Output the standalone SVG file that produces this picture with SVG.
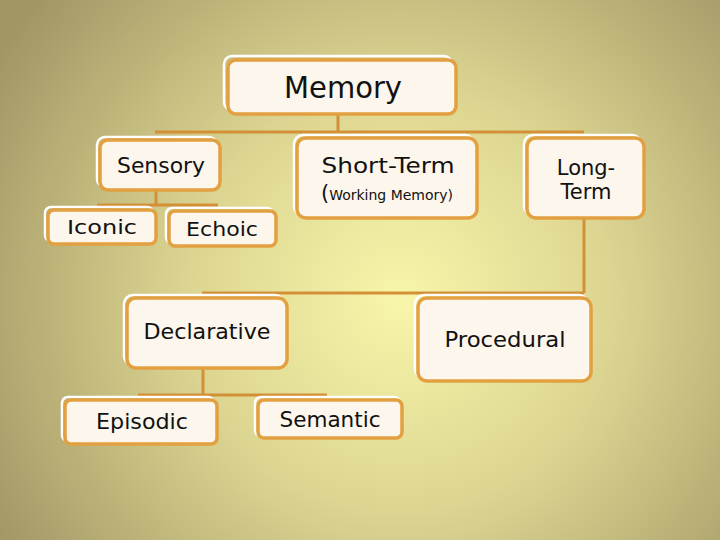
<svg xmlns="http://www.w3.org/2000/svg" width="720" height="540" viewBox="0 0 720 540">
<defs>
<radialGradient id="bg" cx="400" cy="300" r="470" gradientUnits="userSpaceOnUse">
<stop offset="0" stop-color="#f8f6aa"/>
<stop offset="0.45" stop-color="#dcd591"/>
<stop offset="1" stop-color="#a29665"/>
</radialGradient>
<style>
.halo{fill:none;stroke:#ffffff;stroke-width:2.5}
.box{fill:#fcf6ec;stroke:#e2a040;stroke-width:3.5}
.t{font-family:"DejaVu Sans","Liberation Sans",sans-serif;fill:#111;text-anchor:middle}
.c{stroke:#d49036;stroke-width:3;fill:none}
</style>
</defs>
<rect width="720" height="540" fill="url(#bg)"/>
<g id="connectors">
<path class="c" d="M338 114 V132 M155 132 H584 M584 218 V293 M202 293 H584 M156 190 V205 M97 205 H218 M203 367 V395 M138 395 H327"/>
</g>
<g id="memory">
<rect class="halo" x="224" y="56" width="228" height="54" rx="8"/>
<rect class="box" x="228" y="60" width="228" height="54" rx="8"/>
<text class="t" x="343" y="98" font-size="30" textLength="118" lengthAdjust="spacingAndGlyphs">Memory</text>
</g>
<g id="sensory">
<rect class="halo" x="97" y="137" width="120" height="50" rx="8"/>
<rect class="box" x="100" y="140" width="120" height="50" rx="8"/>
<text class="t" x="161" y="173" font-size="21" textLength="88" lengthAdjust="spacingAndGlyphs">Sensory</text>
</g>
<g id="short-term">
<rect class="halo" x="294" y="135" width="180" height="80" rx="9"/>
<rect class="box" x="297" y="138" width="180" height="80" rx="9"/>
<text class="t" x="388" y="173" font-size="21" textLength="133" lengthAdjust="spacingAndGlyphs">Short-Term</text>
<text class="t" x="387" y="200" font-size="14"><tspan font-size="21">(</tspan>Working Memory)</text>
</g>
<g id="long-term">
<rect class="halo" x="524" y="135" width="117" height="80" rx="9"/>
<rect class="box" x="527" y="138" width="117" height="80" rx="9"/>
<text class="t" x="586" y="175" font-size="21">Long-</text>
<text class="t" x="586" y="199" font-size="21">Term</text>
</g>
<g id="iconic">
<rect class="halo" x="45" y="207" width="108" height="34" rx="6"/>
<rect class="box" x="48" y="210" width="108" height="34" rx="6"/>
<text class="t" x="102" y="234" font-size="20" textLength="70" lengthAdjust="spacingAndGlyphs">Iconic</text>
</g>
<g id="echoic">
<rect class="halo" x="166" y="208" width="107" height="35" rx="6"/>
<rect class="box" x="169" y="211" width="107" height="35" rx="6"/>
<text class="t" x="222" y="236" font-size="20" textLength="72" lengthAdjust="spacingAndGlyphs">Echoic</text>
</g>
<g id="declarative">
<rect class="halo" x="124" y="295" width="160" height="70" rx="9"/>
<rect class="box" x="127" y="298" width="160" height="70" rx="9"/>
<text class="t" x="207" y="339" font-size="21" textLength="127" lengthAdjust="spacingAndGlyphs">Declarative</text>
</g>
<g id="procedural">
<rect class="halo" x="415" y="295" width="173" height="83" rx="9"/>
<rect class="box" x="418" y="298" width="173" height="83" rx="9"/>
<text class="t" x="505" y="347" font-size="21" textLength="121" lengthAdjust="spacingAndGlyphs">Procedural</text>
</g>
<g id="episodic">
<rect class="halo" x="62" y="397" width="152" height="44" rx="6"/>
<rect class="box" x="65" y="400" width="152" height="44" rx="6"/>
<text class="t" x="142" y="429" font-size="21" textLength="92" lengthAdjust="spacingAndGlyphs">Episodic</text>
</g>
<g id="semantic">
<rect class="halo" x="255" y="397" width="145" height="39" rx="6"/>
<rect class="box" x="258" y="400" width="144" height="38" rx="6"/>
<text class="t" x="330" y="427" font-size="21" textLength="101" lengthAdjust="spacingAndGlyphs">Semantic</text>
</g>
</svg>
